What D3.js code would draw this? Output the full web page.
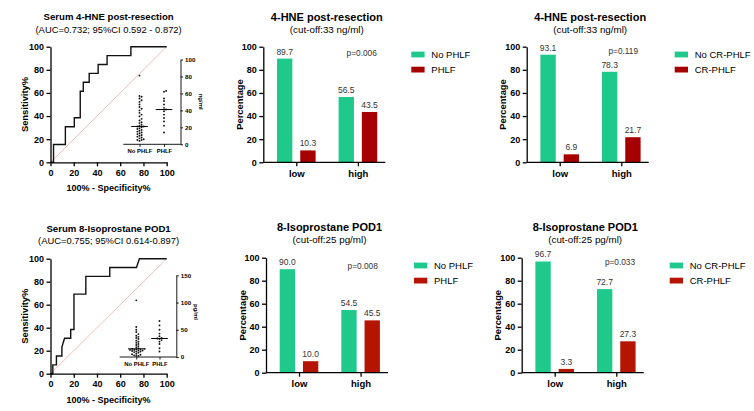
<!DOCTYPE html>
<html>
<head>
<meta charset="utf-8">
<script src="https://cdn.jsdelivr.net/npm/d3@7"></script>
<style>
body { margin: 0; background: #fff; }
</style>
</head>
<body>
<div id="chart-area"></div>
<script>
// ROC curves (100% - specificity, sensitivity)
var rocHneSpec = [0, 2.6, 2.6, 12.8, 12.8, 20.5, 20.5, 25.6, 25.6, 28.2, 28.2, 33.3, 33.3, 41.0, 41.0, 48.7, 48.7, 69.2, 69.2, 100];
var rocHneSens = [0, 0, 15.4, 15.4, 30.8, 30.8, 38.5, 38.5, 61.5, 61.5, 69.2, 69.2, 76.9, 76.9, 84.6, 84.6, 92.3, 92.3, 100, 100];
var rocIsoSpec = [0, 2.0, 2.0, 5.1, 5.1, 9.8, 9.8, 12.1, 17.4, 17.4, 20.2, 20.2, 30.4, 30.4, 51.0, 51.0, 74.0, 76.5, 100];
var rocIsoSens = [0, 0, 7.7, 7.7, 15.4, 15.4, 23.1, 30.8, 30.8, 38.5, 38.5, 69.2, 69.2, 84.6, 84.6, 92.3, 92.3, 100, 100];

// inset scatter values
var hneNoPhlf = [81, 57, 56, 54, 52, 50, 47, 44, 42, 40, 37, 35, 33, 30, 28, 26, 25, 23, 22, 21, 21, 20, 19, 18, 17, 16, 15, 14, 13, 12, 11, 10, 9, 8, 7, 6, 5, 5, 4];
var hnePhlf = [63, 62, 54, 51, 47, 43, 41, 39, 35, 31, 27, 22, 14];
var isoNoPhlf = [104, 55, 50, 46, 42, 39, 37, 35, 33, 30, 28, 26, 24, 22, 20, 18, 16, 15, 15, 14, 14, 13, 13, 12, 12, 11, 10, 10, 9, 8, 6, 5, 4, 3, 2, 2];
var isoPhlf = [66, 58, 50, 43, 38, 35, 34, 33, 31, 28, 24, 16, 10];

// bar percentages
var groups = ["low", "high"];
var hnePhlfNo = [89.7, 56.5], hnePhlfYes = [10.3, 43.5];
var hneCrNo = [93.1, 78.3], hneCrYes = [6.9, 21.7];
var isoPhlfNo = [90.0, 54.5], isoPhlfYes = [10.0, 45.5];
var isoCrNo = [96.7, 72.7], isoCrYes = [3.3, 27.3];

var insetCats = ["No PHLF", "PHLF"];
var phlfLegend = ["No PHLF", "PHLF"];
var crLegend = ["No CR-PHLF", "CR-PHLF"];
var rocTicks = [0, 20, 40, 60, 80, 100];
var pctTicks = [0, 20, 40, 60, 80, 100];
var hneInsetTicks = [0, 20, 40, 60, 80, 100];
var isoInsetTicks = [0, 50, 100, 150];

var FONT = '"Liberation Sans", Arial, Helvetica, sans-serif';
var green = "#1fc98b";

var svg = d3.select("#chart-area").append("svg")
    .attr("width", 754)
    .attr("height", 411)
    .attr("font-family", FONT);

function styleAxis(g, size, w) {
    g.attr("font-family", FONT).attr("font-size", size).attr("font-weight", "bold");
    g.select(".domain").attr("stroke", "#000").attr("stroke-width", w);
    g.selectAll(".tick line").attr("stroke", "#000").attr("stroke-width", w);
    g.selectAll(".tick text").attr("fill", "#000");
}

function text(x, y, str, size, weight, anchor) {
    return svg.append("text")
        .attr("x", x).attr("y", y)
        .attr("font-size", size)
        .attr("font-weight", weight || "normal")
        .attr("text-anchor", anchor || "middle")
        .attr("fill", "#000")
        .text(str);
}

// simple beeswarm: spread close values sideways
function swarm(vals, cx, y, d, dx) {
    var placed = [];
    vals.slice().sort((a, b) => a - b).forEach((v) => {
        var py = y(v);
        for (var k = 0; k < 30; k++) {
            var off = k === 0 ? 0 : Math.ceil(k / 2) * dx * (k % 2 ? 1 : -1);
            var hit = placed.some((p) => Math.hypot(p.x - (cx + off), p.y - py) < d);
            if (!hit) { placed.push({x: cx + off, y: py}); break; }
        }
    });
    return placed;
}

var rocPanels = [
    {x0: 50.5, x1: 166.7, yTop: 46.7, yBot: 162.3, tDy: -26.6, sDy: -14.1,
     title: "Serum 4-HNE post-resection", sub: "(AUC=0.732; 95%CI 0.592 - 0.872)",
     spec: rocHneSpec, sens: rocHneSens, no: hneNoPhlf, yes: hnePhlf,
     insetMax: 100, insetTicks: hneInsetTicks, unit: "ng/ml",
     iax: 180.5, iy0: 144.3, iyTop: 59.5, ixStart: 123.3, ixNo: 139.5, ixYes: 164, unitX: 199, unitY: 101.7},
    {x0: 50.5, x1: 166.7, yTop: 258.7, yBot: 373.7, tDy: -26.8, sDy: -14.4,
     title: "Serum 8-Isoprostane POD1", sub: "(AUC=0.755; 95%CI 0.614-0.897)",
     spec: rocIsoSpec, sens: rocIsoSens, no: isoNoPhlf, yes: isoPhlf,
     insetMax: 150, insetTicks: isoInsetTicks, unit: "pg/ml",
     iax: 176.3, iy0: 357, iyTop: 275.3, ixStart: 119.7, ixNo: 136.3, ixYes: 159.5, unitX: 194, unitY: 312}
];

rocPanels.forEach((o) => {
    var x = d3.scaleLinear().domain([0, 100]).range([o.x0, o.x1]);
    var y = d3.scaleLinear().domain([0, 100]).range([o.yBot, o.yTop]);

    svg.append("line")
        .attr("x1", x(0)).attr("y1", y(0))
        .attr("x2", x(100)).attr("y2", y(100))
        .attr("stroke", "#f4a9a9").attr("stroke-width", 0.8);

    var line = d3.line().x((d) => x(d[0])).y((d) => y(d[1]));
    svg.append("path")
        .datum(d3.zip(o.spec, o.sens))
        .attr("d", line)
        .attr("fill", "none")
        .attr("stroke", "#111")
        .attr("stroke-width", 1.4);

    svg.append("g").attr("transform", "translate(0," + o.yBot + ")")
        .call(d3.axisBottom(x).tickValues(rocTicks).tickSize(4).tickSizeOuter(0).tickPadding(3))
        .call((g) => styleAxis(g, 9, 1.3));
    svg.append("g").attr("transform", "translate(" + o.x0 + ",0)")
        .call(d3.axisLeft(y).tickValues(rocTicks).tickSize(4).tickSizeOuter(0).tickPadding(2.5))
        .call((g) => styleAxis(g, 9, 1.3));

    var cx = (o.x0 + o.x1) / 2;
    text(cx, o.yTop + o.tDy, o.title, 9.6, "bold");
    text(cx, o.yTop + o.sDy, o.sub, 9.4);
    text(cx, o.yBot + 29, "100% - Specificity%", 9, "bold");
    text(0, 0, "Sensitivity%", 9.4, "bold")
        .attr("transform", "translate(" + (o.x0 - 22.2) + "," + ((o.yTop + o.yBot) / 2) + ") rotate(-90)");

    // inset scatter
    var iy = d3.scaleLinear().domain([0, o.insetMax]).range([o.iy0, o.iyTop]);
    var ix = d3.scalePoint().domain(insetCats).range([o.ixNo, o.ixYes]);

    svg.append("g").attr("transform", "translate(" + o.iax + ",0)")
        .call(d3.axisRight(iy).tickValues(o.insetTicks).tickSize(2.5).tickSizeOuter(0).tickPadding(2))
        .call((g) => styleAxis(g, 6.2, 0.9));

    svg.append("line")
        .attr("x1", o.ixStart).attr("x2", o.iax)
        .attr("y1", o.iy0).attr("y2", o.iy0)
        .attr("stroke", "#000").attr("stroke-width", 0.9);
    var xa = svg.append("g").attr("transform", "translate(0," + o.iy0 + ")")
        .call(d3.axisBottom(ix).tickSize(2.5).tickSizeOuter(0).tickPadding(2))
        .call((g) => styleAxis(g, 5.9, 0.9));
    xa.select(".domain").remove();

    text(0, 0, o.unit, 6, "bold")
        .attr("transform", "translate(" + o.unitX + "," + o.unitY + ") rotate(90)");

    [o.no, o.yes].forEach((vals, i) => {
        var c = ix(insetCats[i]);
        svg.append("g").selectAll("circle")
            .data(swarm(vals, c, iy, 1.9, 2.1))
            .enter().append("circle")
            .attr("cx", (d) => d.x)
            .attr("cy", (d) => d.y)
            .attr("r", 0.95)
            .attr("fill", "#111");
        var med = d3.median(vals);
        svg.append("line")
            .attr("x1", c - 8.3).attr("x2", c + 8.3)
            .attr("y1", iy(med)).attr("y2", iy(med))
            .attr("stroke", "#000").attr("stroke-width", 1);
    });
});

var barPanels = [
    {x0: 263.3, yTop: 46.7, yBot: 162.3, tDy: -25.6, sDy: -13.9,
     title: "4-HNE post-resection", sub: "(cut-off:33 ng/ml)",
     no: hnePhlfNo, yes: hnePhlfYes, legend: phlfLegend, red: "#a60000", p: "p=0.006", px: 98.4, py: 9.4},
    {x0: 526.7, yTop: 46.7, yBot: 162.3, tDy: -25.6, sDy: -13.9,
     title: "4-HNE post-resection", sub: "(cut-off:33 ng/ml)",
     no: hneCrNo, yes: hneCrYes, legend: crLegend, red: "#a60000", p: "p=0.119", px: 96.6, py: 6.8},
    {x0: 266, yTop: 257.7, yBot: 372.7, tDy: -26.6, sDy: -14.9,
     title: "8-Isoprostane POD1", sub: "(cut-off:25 pg/ml)",
     no: isoPhlfNo, yes: isoPhlfYes, legend: phlfLegend, red: "#b51400", p: "p=0.008", px: 96.7, py: 10.8},
    {x0: 521.7, yTop: 257.7, yBot: 372.7, tDy: -26.6, sDy: -14.9,
     title: "8-Isoprostane POD1", sub: "(cut-off:25 pg/ml)",
     no: isoCrNo, yes: isoCrYes, legend: crLegend, red: "#b51400", p: "p=0.033", px: 98.3, py: 6.8}
];

barPanels.forEach((o) => {
    var x = d3.scalePoint().domain(groups).range([o.x0 + 33, o.x0 + 94.6]);
    var inner = d3.scaleBand().domain([0, 1]).range([-19.3, 19.3]).paddingInner(0.34);
    var y = d3.scaleLinear().domain([0, 100]).range([o.yBot, o.yTop]);
    var colors = [green, o.red];

    [o.no, o.yes].forEach((vals, s) => {
        svg.append("g").selectAll("rect")
            .data(vals)
            .enter().append("rect")
            .attr("x", (d, i) => x(groups[i]) + inner(s))
            .attr("y", (d) => y(d))
            .attr("width", inner.bandwidth())
            .attr("height", (d) => o.yBot - y(d))
            .attr("fill", colors[s]);
        svg.append("g").selectAll("text")
            .data(vals)
            .enter().append("text")
            .attr("x", (d, i) => x(groups[i]) + inner(s) + inner.bandwidth() / 2)
            .attr("y", (d) => y(d) - 4)
            .attr("text-anchor", "middle")
            .attr("font-size", 8.5)
            .attr("fill", "#333")
            .text((d) => d.toFixed(1));
    });

    svg.append("g").attr("transform", "translate(" + o.x0 + ",0)")
        .call(d3.axisLeft(y).tickValues(pctTicks).tickSize(4).tickSizeOuter(0).tickPadding(2.5))
        .call((g) => styleAxis(g, 9, 1.3));

    svg.append("line")
        .attr("x1", o.x0).attr("x2", o.x0 + 122)
        .attr("y1", o.yBot).attr("y2", o.yBot)
        .attr("stroke", "#000").attr("stroke-width", 1.3);
    var xa = svg.append("g").attr("transform", "translate(0," + o.yBot + ")")
        .call(d3.axisBottom(x).tickSize(4).tickSizeOuter(0).tickPadding(4))
        .call((g) => styleAxis(g, 9.5, 1.3));
    xa.select(".domain").remove();

    text(o.x0 + 63.5, o.yTop + o.tDy, o.title, 11, "bold");
    text(o.x0 + 63.5, o.yTop + o.sDy, o.sub, 9.8);
    text(0, 0, "Percentage", 9.4, "bold")
        .attr("transform", "translate(" + (o.x0 - 20.5) + "," + ((o.yTop + o.yBot) / 2) + ") rotate(-90)");
    text(o.x0 + o.px, o.yTop + o.py, o.p, 8.3).attr("fill", "#333");

    o.legend.forEach((lab, i) => {
        var ly = o.yTop + 7.8 + i * 15.1;
        svg.append("rect")
            .attr("x", o.x0 + 148).attr("y", ly - 2.9)
            .attr("width", 13.3).attr("height", 5.8)
            .attr("fill", colors[i]);
        text(o.x0 + 168, ly + 3.3, lab, 9.5, "normal", "start");
    });
});
</script>
</body>
</html>
